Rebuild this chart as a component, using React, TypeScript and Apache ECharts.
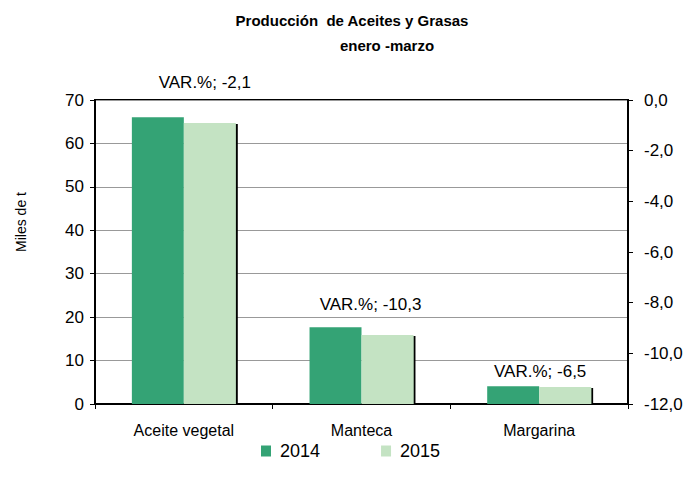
import React, { useEffect, useRef } from "react";
import * as echarts from "echarts";

const categories = ["Aceite vegetal", "Manteca", "Margarina"];
const seriesNames = ["2014", "2015"];
const values2014 = [66.0, 17.7, 4.1];
const values2015 = [64.7, 15.9, 3.9];
const varPct = ["-2,1", "-10,3", "-6,5"];
const leftTicks = [0, 70, 10];
const rightTicks = [-12, 0, 2];
const yAxisTitle = "Miles de t";

// label placement (layout only)
const varLabelOffsets = [
  [47, -21],
  [35, -9],
  [27, -1],
];

export default function App() {
  const ref = useRef<HTMLDivElement>(null);
  useEffect(() => {
    if (!ref.current) return;
    const chart = echarts.init(ref.current, null, { renderer: "svg" });
    const font = "Liberation Sans, Arial, sans-serif";
    chart.setOption({
      animation: false,
      textStyle: { fontFamily: font },
      title: [
        {
          text: "Producción  de Aceites y Grasas",
          left: 347,
          textAlign: "center",
          top: 8,
          textStyle: { fontSize: 15, fontWeight: "bold", color: "#000", fontFamily: font },
        },
        {
          text: "enero -marzo",
          left: 382,
          textAlign: "center",
          top: 33,
          textStyle: { fontSize: 15, fontWeight: "bold", color: "#000", fontFamily: font },
        },
      ],
      graphic: [
        {
          type: "text",
          x: 21,
          y: 222,
          rotation: Math.PI / 2,
          style: {
            text: yAxisTitle,
            fontSize: 14,
            fill: "#000",
            fontFamily: font,
            align: "center",
            verticalAlign: "middle",
          },
        },
      ],
      legend: {
        data: seriesNames,
        top: 437,
        left: 256,
        itemWidth: 10,
        itemHeight: 11,
        itemGap: 61,
        icon: "rect",
        textStyle: { fontSize: 18, color: "#000", fontFamily: font, padding: [0, 0, 0, 4] },
      },
      grid: {
        left: 95,
        right: 63,
        top: 100,
        bottom: 84,
        show: true,
        borderColor: "#000",
        borderWidth: 2,
        backgroundColor: "transparent",
      },
      xAxis: {
        type: "category",
        data: categories,
        axisLine: { lineStyle: { color: "#000", width: 2 } },
        axisTick: { show: true, length: 5, lineStyle: { color: "#000" } },
        axisLabel: { fontSize: 16, color: "#000", margin: 18, fontFamily: font },
      },
      yAxis: [
        {
          type: "value",
          min: leftTicks[0],
          max: leftTicks[1],
          interval: leftTicks[2],
          axisLine: { show: true, lineStyle: { color: "#000", width: 2 } },
          axisTick: { show: true, length: 5, lineStyle: { color: "#000" } },
          axisLabel: { fontSize: 17, color: "#000", margin: 11, fontFamily: font },
          splitLine: { show: true, lineStyle: { color: "#999", width: 1 } },
        },
        {
          type: "value",
          position: "right",
          min: rightTicks[0],
          max: rightTicks[1],
          interval: rightTicks[2],
          axisLine: { show: true, lineStyle: { color: "#000", width: 2 } },
          axisTick: { show: true, length: 5, lineStyle: { color: "#000" } },
          axisLabel: {
            fontSize: 17,
            color: "#000",
            margin: 16,
            fontFamily: font,
            formatter: (v: number) => v.toFixed(1).replace(".", ","),
          },
          splitLine: { show: false },
        },
      ],
      series: [
        {
          name: seriesNames[0],
          type: "bar",
          barGap: "0%",
          barCategoryGap: "41.5%",
          itemStyle: { color: "#34A375" },
          data: values2014.map((v, i) => ({
            value: v,
            label: {
              show: true,
              position: "top",
              offset: varLabelOffsets[i],
              formatter: () => "VAR.%; " + varPct[i],
              fontSize: 17,
              color: "#000",
              fontFamily: font,
            },
          })),
        },
        {
          name: seriesNames[1],
          type: "bar",
          itemStyle: {
            color: "#C4E3C3",
            shadowColor: "#000",
            shadowBlur: 0,
            shadowOffsetX: 2,
            shadowOffsetY: 1,
          },
          data: values2015,
        },
      ],
    });
    return () => chart.dispose();
  }, []);
  return <div ref={ref} style={{ width: 691, height: 488, position: "absolute", left: 0, top: 0 }} />;
}
